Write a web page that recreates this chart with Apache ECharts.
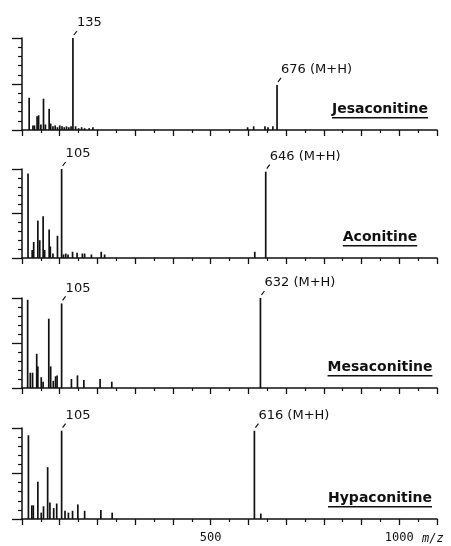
<!DOCTYPE html>
<html>
<head>
<meta charset="utf-8">
<script src="https://cdn.jsdelivr.net/npm/echarts@6/dist/echarts.min.js"></script>
<style>
  html, body { margin: 0; padding: 0; background: #fff; }
  #chart { width: 451px; height: 546px; }
</style>
</head>
<body>
<div id="chart"></div>
<script>
// peak lists, m/z and relative intensity (%)
var jesMz  = [19, 29, 33, 40, 44, 50, 57, 62, 72, 76, 82, 88, 94, 100, 106, 112, 118, 124, 130, 135, 142, 150, 158, 166, 178, 188, 598, 614, 644, 652, 665, 676];
var jesInt = [35, 5, 5, 15, 16, 6, 34, 6, 23, 7, 4, 5, 3, 5, 4, 3, 4, 3, 4, 100, 4, 2, 3, 2, 2, 3, 3, 4, 4, 3, 4, 49];

var acoMz  = [16, 27, 31, 42, 47, 56, 60, 72, 75, 82, 94, 105, 110, 116, 122, 134, 146, 160, 166, 184, 210, 219, 617, 646];
var acoInt = [95, 9, 18, 42, 20, 47, 9, 32, 13, 5, 25, 100, 4, 5, 4, 7, 6, 5, 5, 4, 7, 4, 7, 97];

var mesMz  = [15, 22, 28, 39, 42, 51, 56, 71, 76, 83, 89, 93, 105, 131, 147, 164, 207, 238, 632];
var mesInt = [98, 17, 17, 38, 24, 12, 7, 77, 24, 8, 13, 14, 94, 10, 14, 9, 10, 7, 100];

var hypMz  = [17, 26, 30, 42, 51, 57, 68, 74, 84, 92, 105, 114, 123, 134, 148, 166, 209, 239, 616, 633];
var hypInt = [92, 15, 15, 41, 7, 14, 57, 18, 12, 17, 97, 9, 7, 9, 16, 9, 10, 7, 97, 6];

// labelled peaks
var jesLabelMz = [135, 676];
var jesLabelText = ['135', '676 (M+H)'];
var acoLabelMz = [105, 646];
var acoLabelText = ['105', '646 (M+H)'];
var mesLabelMz = [105, 632];
var mesLabelText = ['105', '632 (M+H)'];
var hypLabelMz = [105, 616];
var hypLabelText = ['105', '616 (M+H)'];

var names = ['Jesaconitine', 'Aconitine', 'Mesaconitine', 'Hypaconitine'];
var xTickLabels = [500, 1000];

var panels = [
    {mz: jesMz, int: jesInt, lmz: jesLabelMz, ltxt: jesLabelText, top: 38, height: 92},
    {mz: acoMz, int: acoInt, lmz: acoLabelMz, ltxt: acoLabelText, top: 169, height: 89},
    {mz: mesMz, int: mesInt, lmz: mesLabelMz, ltxt: mesLabelText, top: 298, height: 90},
    {mz: hypMz, int: hypInt, lmz: hypLabelMz, ltxt: hypLabelText, top: 428, height: 91}
];

var ink = '#111';
var chart = echarts.init(document.getElementById('chart'));

var grids = [], xAxes = [], yAxes = [], series = [], graphics = [];

var measure = document.createElement('canvas').getContext('2d');

panels.forEach(function (p, i) {
    var last = i === panels.length - 1;
    grids.push({left: 22, right: 14, top: p.top, height: p.height});
    xAxes.push({
        type: 'value', gridIndex: i, min: 0, max: 1100, interval: 100,
        axisLine: {lineStyle: {color: ink, width: 1.5}},
        axisTick: {length: 6, lineStyle: {color: ink, width: 1.3}},
        minorTick: {show: true, splitNumber: 2, length: 3, lineStyle: {color: ink, width: 1.2}},
        splitLine: {show: false},
        axisLabel: {
            show: last, margin: 13, color: ink,
            fontFamily: 'DejaVu Sans Mono', fontSize: 12,
            formatter: function (v) { return xTickLabels.indexOf(v) >= 0 ? String(v) : ''; }
        }
    });
    yAxes.push({
        type: 'value', gridIndex: i, min: 0, max: 100, interval: 50,
        axisLine: {show: true, lineStyle: {color: ink, width: 1.5}},
        axisTick: {show: true, length: 10, lineStyle: {color: ink, width: 1.3}},
        minorTick: {show: true, splitNumber: 5, length: 4, lineStyle: {color: ink, width: 1.2}},
        splitLine: {show: false},
        axisLabel: {show: false}
    });

    var data = p.mz.map(function (m, k) { return [m, p.int[k]]; });
    series.push({
        type: 'custom', xAxisIndex: i, yAxisIndex: i,
        encode: {x: 0, y: 1},
        data: data,
        renderItem: function (params, api) {
            var top = api.coord([api.value(0), api.value(1)]);
            var base = api.coord([api.value(0), 0]);
            return {
                type: 'line',
                shape: {x1: base[0], y1: base[1], x2: top[0], y2: top[1]},
                style: {stroke: ink, lineWidth: 1.7}
            };
        }
    });

    var ldata = p.lmz.map(function (m) { return [m, p.int[p.mz.indexOf(m)]]; });
    series.push({
        type: 'custom', xAxisIndex: i, yAxisIndex: i,
        encode: {x: 0, y: 1},
        data: ldata,
        renderItem: function (params, api) {
            var top = api.coord([api.value(0), api.value(1)]);
            return {
                type: 'group',
                children: [
                    {type: 'line',
                     shape: {x1: top[0] + 1, y1: top[1] - 3, x2: top[0] + 4, y2: top[1] - 7},
                     style: {stroke: ink, lineWidth: 1.2}},
                    {type: 'text',
                     style: {text: p.ltxt[params.dataIndex], x: top[0] + 4, y: top[1] - 15,
                             align: 'left', verticalAlign: 'middle',
                             font: '13px "DejaVu Sans"', fill: ink}}
                ]
            };
        }
    });

    var baseY = p.top + p.height;
    var font = 'bold 14px "DejaVu Sans"';
    measure.font = font;
    var w = measure.measureText(names[i]).width;
    graphics.push({
        type: 'text', left: 380 - w / 2, top: baseY - 28,
        style: {text: names[i], font: font, fill: ink}
    });
    graphics.push({
        type: 'rect', shape: {x: 380 - w / 2, y: baseY - 13, width: w, height: 1.4},
        style: {fill: ink}
    });
});

graphics.push({
    type: 'text', left: 422, top: 533,
    style: {text: 'm/z', font: 'italic 12px "DejaVu Sans Mono"', fill: ink}
});

chart.setOption({
    backgroundColor: '#fff',
    animation: false,
    grid: grids,
    xAxis: xAxes,
    yAxis: yAxes,
    series: series,
    graphic: graphics
});
</script>
</body>
</html>
